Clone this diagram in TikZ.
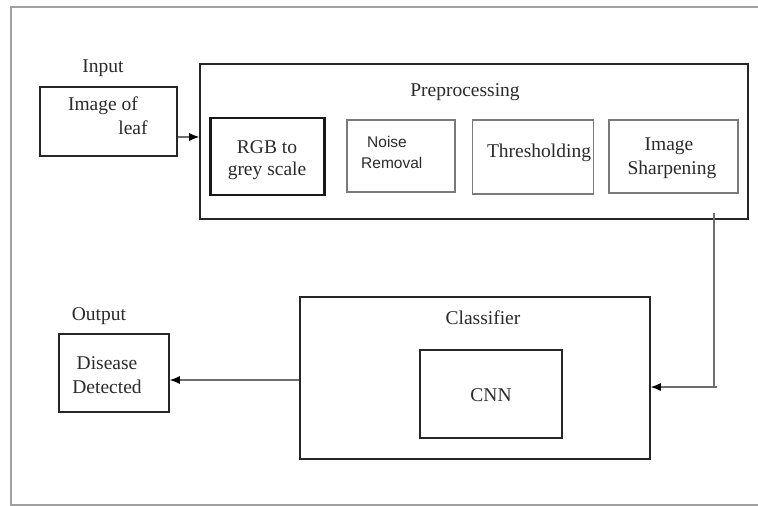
\documentclass[tikz,border=0pt]{standalone}
\usepackage{fontspec}
\setmainfont{Liberation Serif}
\newfontfamily\sansfont{Liberation Sans}
\usetikzlibrary{arrows.meta}
\definecolor{ink}{HTML}{2B2B2B}
\definecolor{framegray}{HTML}{A0A0A0}
\definecolor{wire}{HTML}{6E6E6E}
\definecolor{thinbox}{HTML}{7A7A7A}
\tikzset{
  mainbox/.style={draw=black!85, line width=1.6pt, inner sep=0pt},
  heavybox/.style={draw=black!90, line width=2.1pt, inner sep=0pt},
  lightbox/.style={draw=thinbox, line width=1.1pt, inner sep=0pt},
  txt/.style={font=\fontsize{19.5}{23}\selectfont, text=ink, inner sep=0pt},
  sanstxt/.style={font=\sansfont\fontsize{15.5}{19}\selectfont, text=ink, inner sep=0pt},
  arr/.style={draw=wire, line width=1.1pt, -{Latex[length=10pt,width=8pt,color=black]}},
  wireline/.style={draw=wire, line width=1.1pt}
}
\begin{document}
\begin{tikzpicture}[x=1pt,y=-1pt]
\useasboundingbox (0,0) rectangle (758,506);
\clip (0,0) rectangle (758,506);
\fill[white] (0,0) rectangle (758,506);

% outer frame
\draw[framegray, line width=1.6pt] (11,7) rectangle (775,505);

% input
\node[mainbox, minimum width=137pt, minimum height=69pt] (img) at (108.5,121.5) {};
\node[txt] (inlbl) at (103,68) {Input};
\node[txt] (img1) at (103,106) {Image of};
\node[txt] (img2) at (133,128) {leaf};

% preprocessing stage
\node[mainbox, minimum width=548pt, minimum height=155pt] (pre) at (474,141.5) {};
\node[txt] (prelbl) at (465,92) {Preprocessing};

\node[heavybox, minimum width=114pt, minimum height=77pt] (rgb) at (267.5,156.5) {};
\node[txt] (rgb1) at (267,147) {RGB to};
\node[txt] (rgb2) at (267,171) {grey scale};

\node[lightbox, minimum width=108pt, minimum height=72pt] (noise) at (401,156) {};
\node[sanstxt, anchor=west] (noise1) at (367,142) {Noise};
\node[sanstxt, anchor=west] (noise2) at (361,163) {Removal};

\node[lightbox, minimum width=121pt, minimum height=74pt] (thr) at (533,157) {};
\node[txt] (thr1) at (539,153) {Thresholding};

\node[lightbox, minimum width=129pt, minimum height=73pt] (shp) at (673.5,156.5) {};
\node[txt] (shp1) at (669,146) {Image};
\node[txt] (shp2) at (672,170) {Sharpening};

% classifier stage
\node[mainbox, minimum width=350pt, minimum height=162pt] (cls) at (475,378) {};
\node[txt] (clslbl) at (483,318) {Classifier};
\node[mainbox, minimum width=142pt, minimum height=88pt] (cnn) at (491,394) {};
\node[txt] (cnn1) at (491,395) {CNN};

% output
\node[mainbox, minimum width=110pt, minimum height=78pt] (dis) at (114,373) {};
\node[txt] (outlbl) at (99,316) {Output};
\node[txt] (dis1) at (107,363) {Disease};
\node[txt] (dis2) at (107,387) {Detected};

% connectors
\draw[arr] ([yshift=-15.5pt]img.east) -- ([yshift=-15.5pt]img.east -| pre.west);
\coordinate (tap) at (714,213);
\draw[arr] (tap) |- ([yshift=-9pt]cls.east);
\draw[wireline] ([yshift=-9pt]cls.east -| tap) -- +(3,0);
\draw[arr] ([yshift=-2pt]cls.west) -- ([yshift=-2pt]cls.west -| dis.east);
\end{tikzpicture}
\end{document}
